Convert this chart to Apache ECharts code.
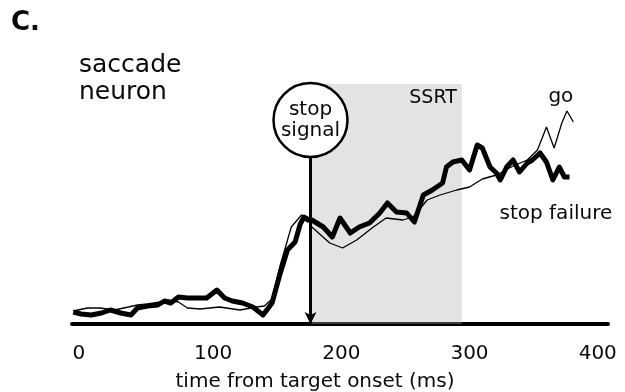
<!DOCTYPE html>
<html>
<head>
<meta charset="utf-8">
<script src="https://cdn.jsdelivr.net/npm/echarts@6/dist/echarts.min.js"></script>
<style>
  html, body { margin: 0; padding: 0; background: #fff; }
  #chart { width: 625px; height: 392px; }
</style>
</head>
<body>
<div id="chart"></div>
<script>
// time axis (ms from target onset) and firing rate (arbitrary units)
const xTicks = [0, 100, 200, 300, 400]

const goTime = [-9, 2, 12, 23, 34, 41, 49, 59, 65, 73, 80, 90, 105, 121, 134, 140, 146, 152, 161, 169,
  174, 177, 191, 201, 212, 225, 235, 248, 256, 267, 277, 290, 300, 310, 321, 334, 345, 353, 360, 366,
  372, 376, 381]
const goRate = [6.5, 8, 8, 7, 8.5, 9.5, 10, 11, 12, 11, 8, 7.5, 8.5, 7, 8.5, 9, 12.5, 28.5, 48.5, 54.5,
  53.5, 48.5, 40.5, 38, 42, 48.5, 53, 52, 53.5, 62, 64.5, 67, 68.5, 72.5, 74.5, 79, 82, 87, 98.5, 88,
  100.5, 106.5, 101]

const failTime = [-9, -3, 5, 13, 20, 28, 36, 41, 49, 57, 62, 67, 73, 80, 88, 95, 103, 109, 115, 123,
  131, 139, 146, 152, 158, 164, 168, 171, 174, 177, 186, 193, 199, 207, 214, 222, 230, 236, 243, 251,
  257, 264, 271, 279, 282, 287, 294, 300, 306, 310, 316, 321, 324, 329, 334, 339, 345, 349, 355, 360,
  365, 370, 374, 378]
const failRate = [6, 5, 4.5, 5.5, 7, 5.5, 4.5, 8, 9, 9.5, 11.5, 10.5, 13.5, 13, 13, 13, 17, 13, 11.5, 10.5,
  8.5, 4.5, 10.5, 24.5, 37, 41, 50, 53.5, 52, 52, 48.5, 43.5, 53, 45.5, 48.5, 50.5, 55.5, 60.5, 56, 55.5,
  51, 64.5, 67, 70.5, 78.5, 81, 82, 77, 89.5, 88, 78.5, 75.5, 72, 78.5, 82, 76, 80.5, 82, 85.5, 81,
  72, 78.5, 73.5, 73.5]

const stopSignal = 176   // stop signal delay
const ssrtEnd = 294      // end of stop signal reaction time
const circleLevel = 102  // where the "stop signal" badge sits
const stemTop = 83

const FONT = 'DejaVu Sans'
const TEXT = '#0a0a0a'
const zip = (xs, ys) => xs.map((x, i) => [x, ys[i]])

const chart = echarts.init(document.getElementById('chart'))

chart.setOption({
  animation: false,
  backgroundColor: '#fff',
  textStyle: { fontFamily: FONT },
  title: [
    {
      text: 'C.',
      left: 6, top: 5,
      textStyle: { fontFamily: FONT, fontSize: 26, fontWeight: 'bold', color: TEXT },
    },
    {
      text: 'saccade\nneuron',
      left: 74, top: 47,
      textStyle: { fontFamily: FONT, fontSize: 25, fontWeight: 'normal', color: TEXT, lineHeight: 27 },
    },
  ],
  grid: { left: 72, right: 17, top: 84, bottom: 68, containLabel: false, outerBoundsMode: 'none' },
  xAxis: {
    type: 'value',
    min: -10,
    max: 408,
    name: 'time from target onset (ms)',
    nameLocation: 'middle',
    nameGap: 48,
    nameTextStyle: { fontSize: 20, color: TEXT, padding: [0, 50, 0, 0] },
    axisLine: { lineStyle: { color: '#000', width: 4 } },
    axisTick: { show: false },
    splitLine: { show: false },
    axisLabel: {
      customValues: xTicks,
      margin: 20,
      fontSize: 20,
      color: TEXT,
      formatter: v => (v === 0 ? '{z|0}' : String(v)),
      rich: { z: { fontSize: 20, color: TEXT, padding: [0, 12, 0, 0] } },
    },
  },
  yAxis: {
    type: 'value',
    min: 0,
    max: 120,
    show: false,
  },
  series: [
    {
      name: 'stop failure',
      type: 'line',
      z: 2,
      data: zip(failTime, failRate),
      showSymbol: false,
      lineStyle: { color: '#000', width: 5, join: 'round' },
      endLabel: {
        show: true,
        formatter: 'stop failure',
        fontSize: 20,
        color: TEXT,
        offset: [-78, 37],
      },
    },
    {
      name: 'go',
      type: 'line',
      z: 3,
      data: zip(goTime, goRate),
      showSymbol: false,
      lineStyle: { color: '#000', width: 1.3 },
      endLabel: {
        show: true,
        formatter: 'go',
        fontSize: 20,
        color: TEXT,
        offset: [-33, -25],
      },
    },
    {
      // SSRT shading, laid over the traces so they turn grey inside it
      name: 'SSRT',
      type: 'line',
      z: 4,
      data: [],
      markArea: {
        silent: true,
        itemStyle: { color: 'rgba(174,174,174,0.345)' },
        label: {
          show: true,
          position: 'insideTopRight',
          formatter: 'SSRT',
          distance: 5,
          fontSize: 19,
          color: TEXT,
        },
        data: [[{ name: 'SSRT', coord: [stopSignal, 0] }, { coord: [ssrtEnd, 120] }]],
      },
    },
    {
      name: 'stop signal',
      type: 'line',
      z: 6,
      data: [],
      markLine: {
        silent: true,
        symbol: ['none', 'arrow'],
        symbolSize: [9, 12],
        label: { show: false },
        lineStyle: { color: '#000', width: 3, type: 'solid' },
        data: [[{ coord: [stopSignal, stemTop] }, { coord: [stopSignal, 0] }]],
      },
      markPoint: {
        silent: true,
        symbol: 'circle',
        symbolSize: 74,
        itemStyle: { color: '#fff', borderColor: '#000', borderWidth: 2.5 },
        label: {
          show: true,
          position: 'inside',
          formatter: 'stop\nsignal',
          fontSize: 20,
          lineHeight: 21,
          color: TEXT,
        },
        data: [{ coord: [stopSignal, circleLevel] }],
      },
    },
  ],
})
</script>
</body>
</html>
